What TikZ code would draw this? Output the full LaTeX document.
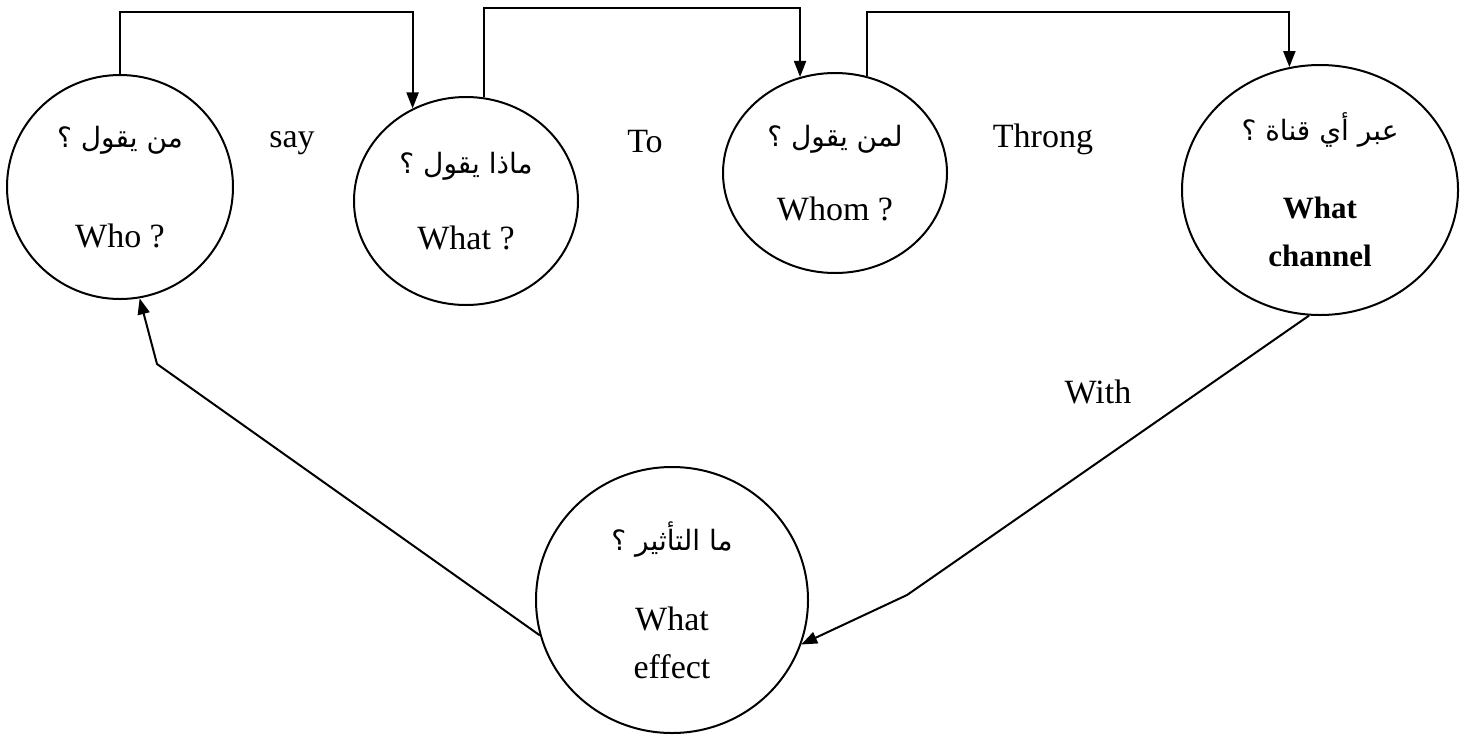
\documentclass[tikz,border=0pt]{standalone}
\usepackage{fontspec}
\setmainfont{Liberation Serif}
\newfontfamily\arabicfont[Script=Arabic]{DejaVu Sans}
\TeXXeTstate=1
\usetikzlibrary{arrows.meta,shapes.geometric}
\newcommand{\arabtext}[1]{{\arabicfont\fontsize{14}{16}\selectfont\beginR #1\endR}}

\begin{document}
\begin{tikzpicture}[
    x=0.5pt, y=-0.5pt,
    every node/.style={font=\fontsize{17}{24}\selectfont},
    stage/.style={ellipse, draw, line width=1pt, inner sep=0pt, align=center},
    flow/.style={-{Stealth[length=8pt, width=6pt, inset=0pt]}, line width=1pt},
]
\useasboundingbox (0,0) rectangle (1471,734);

% Question circles
\node[stage, minimum width=113pt, minimum height=112pt] (who) at (120,187)
    {\arabtext{من يقول ؟}\\[26pt]Who ?};
\node[stage, minimum width=112pt, minimum height=104pt] (what) at (466,201)
    {\arabtext{ماذا يقول ؟}\\[14pt]What ?};
\node[stage, minimum width=112pt, minimum height=100pt] (whom) at (835,173)
    {\arabtext{لمن يقول ؟}\\[13pt]Whom ?};
\node[stage, minimum width=138pt, minimum height=125pt] (channel) at (1320,190)
    {\arabtext{عبر أي قناة ؟}\\[15pt]{\bfseries\fontsize{15.5}{18}\selectfont What}\\{\bfseries\fontsize{15.5}{18}\selectfont channel}};
\node[stage, minimum width=136pt, minimum height=133pt] (effect) at (672,600)
    {\arabtext{ما التأثير ؟}\\[16pt]What\\effect};

% Link words
\node[anchor=base] (say) at (292,147) {say};
\node[anchor=base] (to) at (645,152) {To};
\node[anchor=base] (throng) at (1043,147) {Throng};
\node[anchor=base] (with) at (1098,403) {With};

% Top chain
\draw[flow] (who.north) -- ++(0,-62) -| (what.120);
\draw[flow] (what.80) -- ++(0,-89) -| (whom.110);
\draw[flow] (whom.72) -- ++(0,-64) -| (channel.104);

% Return path through effect
\coordinate (kneeR) at (907,595);
\coordinate (kneeL) at (157,364);
\draw[flow] (channel.265) -- (kneeR) -- (effect.-19);
\draw[flow] (effect.195) -- (kneeL) -- (who.280);
\end{tikzpicture}
\end{document}
